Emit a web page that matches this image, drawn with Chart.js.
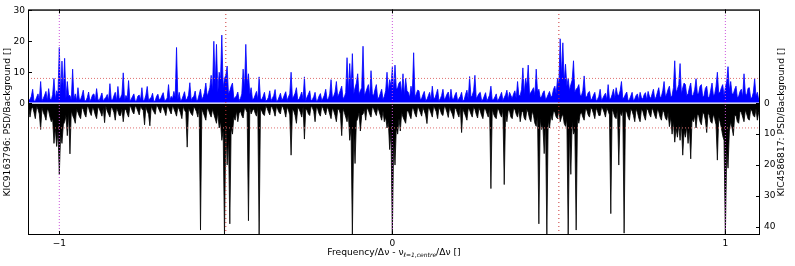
<!DOCTYPE html>
<html>
<head>
<meta charset="utf-8">
<script src="https://cdn.jsdelivr.net/npm/chart.js@4/dist/chart.umd.min.js"></script>
<style>
  html, body { margin: 0; padding: 0; background: #fff; }
</style>
</head>
<body>
<canvas id="chart" width="795" height="266"></canvas>
<script>
// frequency grid (in units of Δν, relative to the l=1 centre)
const freqStart = -1.096;
const freqStep = 0.004;

// KIC9163796 PSD/Background (top, blue)
const psdKIC9163796 = [
  3.5,0.9,1.2,2.2,4.5,0.6,0.8,1.9,3.0,1.1,7,0.8,1.5,2.6,3.8,0.7,4.7,1.5,1.0,2.8,8,1.2,4,3.0,18,2.5,13.6,4.0,14.5,1.6,7,2.4,2.5,1.0,11,1.4,3,0.8,5,1.3,
  1.2,2.5,4.2,0.7,0.8,1.8,3.6,0.5,1.5,2.7,3.0,0.9,4.7,1.2,0.9,2.1,3.3,0.6,1.4,1.9,2.8,0.8,6.3,1.1,1.0,2.4,3.5,0.7,5.4,1.3,1.8,2.9,9.8,0.9,2.5,1.6,7.3,0.8,1.3,2.2,
  3.0,0.6,0.9,2.3,2.6,1.0,5,0.7,1.1,2.6,5.4,0.9,1.5,1.8,3.2,0.5,0.8,2.2,2.9,1.1,1.4,2.5,3.4,0.8,1.0,1.7,6,0.9,2.2,1.4,3.8,2.0,18,1.2,3.5,0.8,1.2,2.4,3.7,1.0,
  1.5,2.6,6.6,0.9,1.8,2.2,3.9,0.7,1.2,2.8,4.5,1.3,2.0,3.5,6.5,2.2,3.5,5.0,9,4.0,20,6.0,19,3.5,10,7.5,22,5.0,8,9.0,12,3.0,4,5.5,6.5,1.5,1.8,2.4,3.6,0.9,
  1.5,3.0,11,4.5,19,6.0,9.5,3.0,5,1.2,1.4,2.6,3.8,1.0,8.5,1.4,1.2,2.2,3.5,0.7,1.0,1.9,4.0,0.8,1.6,2.5,4.4,0.6,0.9,2.0,3.2,1.1,1.5,2.7,3.7,0.9,2.0,3.0,10,1.5,
  2.2,3.2,5,1.0,1.3,2.4,3.6,1.1,8.5,0.8,2.0,2.9,4.0,0.7,1.2,2.1,3.5,0.6,1.0,2.3,3.1,0.9,1.6,2.6,4.5,1.2,1.4,3.0,7.6,1.8,2.3,3.6,7,2.0,3.0,4.2,5.5,1.5,2.0,3.4,
  14.7,3.5,12.8,4.5,16,3.0,5,6.5,9.5,2.8,4,5.0,18.4,2.5,3.5,4.8,6,2.2,10.5,3.0,2.5,4.5,6,1.5,1.8,3.2,4.5,1.2,2.2,4.0,10,3.5,7.6,5.5,11.6,3.8,12.3,4.5,5,6.5,
  7,3.0,9.5,2.5,8,4.0,3.5,1.8,5.5,3.2,16.3,2.0,3,4.2,4,1.2,1.5,2.8,3.8,0.9,1.2,2.4,3.5,1.0,5.5,1.6,1.6,3.0,4.5,0.8,1.4,2.5,4.5,1.1,1.8,2.9,3.6,0.7,4.5,1.4,
  1.3,2.6,3.5,0.8,1.5,2.2,3.5,0.6,1.2,2.9,4.2,1.3,8.6,2.0,2.5,4.0,9,1.5,2.2,3.1,3.5,0.9,1.1,2.3,3.4,0.7,1.6,2.6,5.5,1.0,1.2,2.0,3.0,0.6,1.4,2.4,3.5,0.9,1.8,2.7,
  4.2,1.2,3.5,2.5,1.5,3.0,4.0,1.6,7,2.4,2.5,4.5,11.4,3.0,8,5.5,12.3,2.8,3.5,4.2,5,2.5,11,3.6,4.5,1.8,2.0,3.3,4,1.2,1.8,2.8,3.8,2.0,2.5,4.5,5.5,3.0,8,6.0,
  20.8,9.0,19.5,7.0,12.6,5.5,8,4.0,6,7.5,13.7,3.5,4.5,5.0,6,2.5,2.5,4.0,8.8,2.2,2.0,3.4,3.8,1.0,1.5,2.6,3.5,0.8,1.2,2.2,4.5,0.9,1.6,2.5,3.2,1.0,6,1.3,1.5,2.8,
  4.5,1.6,5,2.8,2.5,4.0,7,1.5,1.8,2.9,3.6,0.8,1.2,2.3,3.5,0.7,1.4,2.5,3.0,0.9,3.5,1.8,1.3,2.7,3.4,1.0,3.8,2.2,1.5,3.0,4.5,1.3,2.0,3.5,5.0,1.8,2.2,4.0,7,2.0,
  3.0,4.5,5.5,2.0,2.5,5.0,13.7,3.5,4.5,6.0,12.8,3.0,5,6.5,6,2.5,3.0,5.0,6.5,2.2,2.8,4.5,7.9,3.0,3.2,5.5,6,2.0,2.5,4.8,5.5,1.8,2.0,4.2,6.5,2.5,3.0,5.5,10,3.2,
  3.5,5.0,6,2.5,5,7.0,11.8,4.0,7,3.0,3.0,4.5,5.5,1.8,2.2,3.8,4.5,2.0,9.5,3.2,2.5,4.8,5.0,1.5,1.8,3.5,8,2.2,3.5,1.2,2
];

// KIC4586817 PSD/Background (bottom, black, plotted downwards)
const psdKIC4586817 = [
  2.5,1.0,4.5,1.8,1.2,3.0,5,1.1,2.0,3.5,8.5,1.5,3.0,4.0,5.5,2.0,2.5,4.5,6,5.0,13,8.0,14,9.0,23,10,13,7.0,6,4.0,10.5,3.0,16.4,2.5,4,5.0,6.5,2.0,3,4.2,
  5,1.4,2.0,3.6,4.5,1.0,1.5,3.0,4.0,1.2,2.2,3.8,5,1.3,1.8,2.9,4.2,1.6,6.3,1.0,2.5,3.5,4.5,1.2,1.8,3.0,5.5,1.5,2.6,4.0,4.0,1.8,6,2.2,2.0,3.4,4.5,1.0,1.5,2.8,
  3.5,0.8,1.5,2.6,3.8,1.0,1.8,2.4,7,1.2,2.5,3.6,7.3,1.0,2.0,2.8,3.6,0.7,1.2,2.2,3.2,0.9,1.6,2.6,4.0,1.1,1.4,2.5,3.5,0.8,1.8,2.9,4.2,1.2,2.0,3.2,5,1.0,2.2,3.0,
  14.2,1.5,2.5,3.4,4.0,1.2,1.8,2.8,4.5,1.5,41,2.0,3.0,4.2,5.5,1.6,2.2,3.5,4.5,2.0,3.5,5.0,6.5,3.0,8,6.0,12,9.0,43,7.0,20,11,39,8.0,10,4.5,5.5,2.5,6,3.2,
  2.5,4.0,4.8,1.6,2.0,3.0,38,1.5,3.5,2.4,1.8,3.2,4.2,1.3,43,2.0,2.5,3.6,4.0,1.0,1.6,2.8,3.8,0.9,1.5,2.6,4.2,1.1,2.0,3.0,3.5,0.8,1.4,2.5,4.5,1.2,2.2,3.8,16.8,2.0,
  2.5,4.0,6.5,1.5,1.8,3.0,4.5,1.2,11.6,2.0,2.2,3.5,4.0,1.0,1.5,2.6,6,1.2,2.0,3.4,4.2,1.0,1.6,2.8,3.8,1.3,2.0,3.6,5.0,1.5,2.5,4.0,6,2.0,2.0,3.5,10.5,1.8,3.0,4.5,
  6,3.5,12,8.0,43,9.0,19.5,6.0,5,3.0,9,4.0,3.5,2.0,5.5,1.5,2.2,3.6,4.5,1.2,1.8,3.0,4.0,1.4,2.5,4.0,5.5,2.5,6,4.5,8,6.0,15,9.0,43,12,20,8.0,10,5.0,
  9,3.0,4.5,5.5,6.5,2.5,2.5,4.0,5.0,1.5,2.0,3.5,4.5,1.2,1.8,3.0,4.2,1.4,2.5,3.8,6.6,1.5,2.0,3.2,4.5,1.0,1.8,2.8,5.0,1.3,2.2,3.6,4.0,1.1,1.6,2.9,4.6,1.2,2.5,3.5,
  5.0,1.5,2.0,3.4,4.5,1.2,9.5,2.0,3.0,4.2,5.5,1.6,2.2,3.5,4.5,1.3,2.0,3.6,4.8,1.5,2.5,4.0,5,1.8,2.0,3.3,4.5,1.5,27.6,2.0,3.5,4.5,5.0,1.8,2.2,3.6,4.5,2.0,26.3,3.0,
  6,2.2,2.5,4.5,5.0,1.8,2.0,3.6,4.5,2.0,6,3.0,2.5,4.8,5.5,2.0,3.0,5.0,6.0,2.5,4.0,6.5,7.5,4.0,39,5.0,8.5,7.0,16.3,6.0,43,5.5,8,4.0,5.5,2.5,3.0,4.5,5.0,2.0,
  6,4.5,3.5,6.5,7.5,5.0,43,8.0,23,6.0,10,9.0,41,5.0,6.5,3.5,3.0,4.5,5.5,2.0,2.2,3.8,4.5,1.5,2.0,3.4,5.0,1.6,2.5,4.0,4.0,1.4,1.8,3.0,4.5,1.6,2.5,3.8,35.7,2.0,
  3.0,4.5,5.0,2.0,20,3.0,4.0,2.2,42,2.5,3.0,4.5,5.5,2.0,2.5,4.0,6,1.8,3.0,4.8,6,2.0,2.5,4.2,5.5,1.8,2.2,3.6,4.5,1.5,2.5,4.0,5.0,2.0,2.8,4.5,5.5,2.2,3.0,4.8,
  5.5,3.0,7.6,4.5,10,6.0,12.6,8.0,11,7.0,12,6.5,16.8,9.0,11,7.5,13,8.0,18,5.0,6,4.0,8,3.5,4.0,6.0,7.0,3.0,3.5,5.5,9.5,3.0,4.0,6.0,6.5,3.5,5.0,7.0,18.4,4.5,
  6,8.0,10.5,12,43,15,21,9.0,6,8.0,10.5,4.0,4.0,6.0,6.5,2.5,3.0,4.5,6,2.2,3.5,5.0,5.5,2.0,2.5,4.0,4.5,1.8,5.5,3.0,2.5
];

const xTicks = [-1, 0, 1];
const leftTicks = [0, 10, 20, 30];
const rightTicks = [0, 10, 20, 30, 40];
const ridgeFreqs = [-1, 0, 1];
const halfFreqs = [-0.5, 0.5];
const threshold = 8;

const xMin = -1.094, xMax = 1.104;
const yMin = -42.6, yMax = 30.3;
const FONT = '"DejaVu Sans", sans-serif';

function freq(i) { return freqStart + i * freqStep; }

let topPts = psdKIC9163796.map((v, i) => ({ x: freq(i), y: v }));
let botPts = psdKIC4586817.map((v, i) => ({ x: freq(i), y: -v }));

function vline(f, color, dash) {
    return { data: [{ x: f, y: yMin }, { x: f, y: yMax }], borderColor: color, borderWidth: 1,
             borderDash: dash, pointRadius: 0 };
}
function hline(v) {
    return { data: [{ x: xMin, y: v }, { x: xMax, y: v }], borderColor: '#e07070', borderWidth: 1,
             borderDash: [1, 2], pointRadius: 0 };
}

let datasets = [];
ridgeFreqs.forEach(f => datasets.push(vline(f, '#cc55dd', [1, 2])));
halfFreqs.forEach(f => datasets.push(vline(f, '#cc3333', [1, 3])));
datasets.push(hline(threshold));
datasets.push(hline(-threshold));
datasets.push({ data: [{ x: xMin, y: 0 }, { x: xMax, y: 0 }], borderColor: '#ffffff', borderWidth: 1.2, pointRadius: 0 });
datasets.push({ data: topPts, borderColor: '#0000ff', backgroundColor: '#0000ff', fill: 'origin',
                borderWidth: 0.8, pointRadius: 0 });
datasets.push({ data: botPts, borderColor: '#000000', backgroundColor: '#000000', fill: 'origin',
                borderWidth: 0.8, pointRadius: 0 });

// frame, inward ticks and axis titles like matplotlib
const decor = {
    id: 'decor',
    afterDraw(chart) {
        const ctx = chart.ctx;
        const a = chart.chartArea;
        const sx = chart.scales.x, sy = chart.scales.y;
        ctx.save();
        ctx.strokeStyle = '#000';
        ctx.lineWidth = 1;
        ctx.strokeRect(a.left + 0.5, a.top + 0.5, a.right - a.left - 1, a.bottom - a.top - 1);
        ctx.beginPath();
        ctx.moveTo(a.left, a.top + 1); ctx.lineTo(a.right, a.top + 1);
        ctx.strokeStyle = '#333';
        ctx.stroke();

        ctx.strokeStyle = '#000';
        ctx.beginPath();
        leftTicks.forEach(v => {
            let p = Math.round(sy.getPixelForValue(v)) + 0.5;
            ctx.moveTo(a.left, p); ctx.lineTo(a.left + 4, p);
        });
        rightTicks.forEach(v => {
            let p = Math.round(sy.getPixelForValue(-v)) + 0.5;
            ctx.moveTo(a.right - 4, p); ctx.lineTo(a.right, p);
        });
        xTicks.forEach(v => {
            let p = Math.round(sx.getPixelForValue(v)) + 0.5;
            ctx.moveTo(p, a.bottom); ctx.lineTo(p, a.bottom - 4);
            ctx.moveTo(p, a.top); ctx.lineTo(p, a.top + 4);
        });
        ctx.stroke();

        ctx.fillStyle = '#000';
        ctx.textAlign = 'center';
        ctx.textBaseline = 'middle';
        ctx.font = '9.2px ' + FONT;
        let mid = (a.top + a.bottom) / 2;
        ctx.save();
        ctx.translate(8, mid);
        ctx.rotate(-Math.PI / 2);
        ctx.fillText('KIC9163796: PSD/Background []', 0, 0);
        ctx.restore();
        ctx.save();
        ctx.translate(782, mid);
        ctx.rotate(-Math.PI / 2);
        ctx.fillText('KIC4586817: PSD/Background []', 0, 0);
        ctx.restore();

        // x title with subscript
        const parts = [
            { t: 'Frequency/\u0394\u03bd - \u03bd', f: '9.2px ' + FONT, dy: 0 },
            { t: '\u2113=1,centre', f: 'italic 6px ' + FONT, dy: 2.5 },
            { t: '/\u0394\u03bd []', f: '9.2px ' + FONT, dy: 0 }
        ];
        let w = 0;
        parts.forEach(p => { ctx.font = p.f; p.w = ctx.measureText(p.t).width; w += p.w; });
        let x = (a.left + a.right) / 2 - w / 2;
        ctx.textAlign = 'left';
        parts.forEach(p => {
            ctx.font = p.f;
            ctx.fillText(p.t, x, 253 + p.dy);
            x += p.w;
        });
        ctx.restore();
    }
};

new Chart(document.getElementById('chart'), {
    type: 'line',
    data: { datasets: datasets },
    options: {
        responsive: false,
        animation: false,
        events: [],
        layout: { padding: { top: 4 } },
        elements: { line: { tension: 0 } },
        plugins: { legend: { display: false }, tooltip: { enabled: false }, filler: { propagate: false } },
        scales: {
            x: {
                type: 'linear', min: xMin, max: xMax,
                afterBuildTicks: s => { s.ticks = xTicks.map(v => ({ value: v })); },
                afterFit: s => { s.height = 31; },
                ticks: { callback: v => (v < 0 ? '\u2212' + Math.abs(v) : String(v)),
                         font: { family: FONT, size: 9 }, color: '#000', padding: 3, maxRotation: 0 },
                grid: { display: false, drawTicks: false },
                border: { display: false }
            },
            y: {
                position: 'left', min: yMin, max: yMax,
                afterBuildTicks: s => { s.ticks = leftTicks.map(v => ({ value: v })); },
                afterFit: s => { s.width = 28; },
                ticks: { font: { family: FONT, size: 9 }, color: '#000', padding: 3 },
                grid: { display: false, drawTicks: false },
                border: { display: false }
            },
            y2: {
                position: 'right', min: yMin, max: yMax,
                afterBuildTicks: s => { s.ticks = rightTicks.map(v => ({ value: -v })); },
                afterFit: s => { s.width = 35; },
                ticks: { callback: v => String(Math.abs(v)),
                         font: { family: FONT, size: 9 }, color: '#000', padding: 4 },
                grid: { display: false, drawTicks: false },
                border: { display: false }
            }
        }
    },
    plugins: [decor]
});
</script>
</body>
</html>
